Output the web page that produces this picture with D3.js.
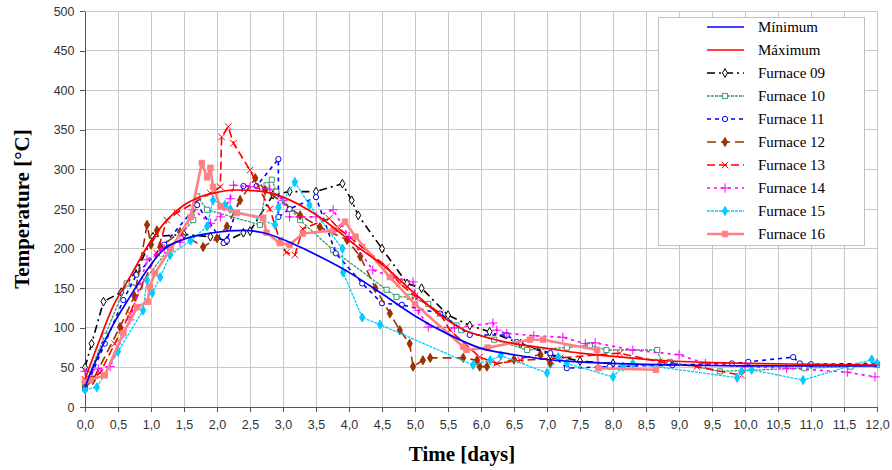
<!DOCTYPE html>
<html>
<head>
<meta charset="utf-8">
<script src="https://cdn.jsdelivr.net/npm/d3@7"></script>
<style>
  body { margin: 0; background: #fff; }
</style>
</head>
<body>
<svg id="chart" width="892" height="470"></svg>
<script>
// ---- data: [time (days), temperature (°C)] ----
const minimum = [[0,25],[0.12,50],[0.4,100],[0.68,139],[1.0,180],[1.18,198],[1.5,212],[1.94,220],[2.4,223],[2.7,220],[3.26,202],[3.6,188],[4.0,170],[4.5,143],[5.0,115],[5.5,92],[6.0,74],[6.5,66],[7.0,60],[7.5,57],[8.0,55],[9.0,53],[10.0,52],[11.0,52],[12.0,52]]
const maximum = [[0,35],[0.2,80],[0.42,126],[0.68,164],[0.94,202],[1.24,236],[1.5,255],[1.7,264],[2.0,271],[2.3,274],[2.7,272],[3.0,265],[3.4,248],[3.76,227],[4.1,204],[4.5,180],[5.0,143],[5.4,115],[5.75,97],[6.0,90],[6.5,80],[7.0,74],[7.5,68],[8.0,64],[8.7,59],[9.5,56],[10.0,55],[11.0,54],[12.0,53]]
const furnace09 = [[0,50],[0.1,80],[0.28,133],[0.55,145],[0.8,175],[1.03,215],[1.5,218],[1.9,215],[2.15,210],[2.4,220],[2.5,222],[2.85,268],[3.1,272],[3.5,272],[3.9,282],[4.04,261],[4.14,242],[4.5,200],[4.88,156],[5.1,150],[5.5,116],[5.83,103],[6.13,95],[6.6,80],[7.05,66],[7.5,58],[8.0,55]]
const furnace10 = [[0,28],[0.3,90],[0.63,156],[0.83,152],[1.29,202],[1.64,236],[1.7,266],[1.85,249],[2.65,230],[2.75,280],[2.83,287],[2.9,272],[3.26,236],[3.76,198],[4.57,148],[4.72,139],[4.92,139],[5.2,130],[5.63,103],[5.7,97],[6.2,85],[6.7,72],[7.3,75],[7.65,78],[7.9,72],[8.67,72],[8.74,55],[8.86,57],[9.62,45],[10.9,49],[11.6,51],[12.0,53]]
const furnace11 = [[0,22],[0.3,80],[0.58,135],[0.78,167],[1.2,205],[1.7,255],[2.1,207],[2.15,210],[2.4,279],[2.6,279],[2.93,313],[2.93,240],[3.1,250],[3.5,265],[3.8,194],[4.2,156],[4.5,131],[4.8,129],[5.38,118],[5.83,91],[6.39,91],[6.54,82],[7.05,68],[7.3,49],[7.95,51],[8.9,53],[9.8,55],[10.05,57],[10.73,63],[10.83,55],[11.0,54],[12.0,55]]
const furnace12 = [[0,25],[0.12,34],[0.53,101],[0.75,140],[0.94,230],[1.0,205],[1.09,223],[1.14,202],[1.44,221],[1.79,202],[2.0,213],[2.15,228],[2.35,261],[2.58,289],[2.73,274],[3.26,242],[3.56,227],[3.97,211],[4.17,190],[4.4,150],[4.62,118],[4.77,97],[4.92,80],[4.97,51],[5.12,59],[5.23,62],[5.73,62],[5.94,59],[5.98,51],[6.09,51],[6.5,60],[6.9,66],[7.05,55]]
const furnace13 = [[0,35],[0.23,43],[0.45,80],[0.68,118],[0.9,160],[1.09,194],[1.24,236],[1.39,245],[1.9,270],[2.05,278],[2.07,341],[2.17,354],[2.25,333],[2.5,299],[2.8,250],[2.95,211],[3.05,195],[3.18,192],[3.3,225],[3.7,238],[3.85,225],[4.2,202],[4.57,177],[4.77,156],[5.0,140],[5.38,118],[5.53,97],[5.98,63],[6.24,55],[6.6,59],[7.2,62],[8.1,68],[8.7,57],[9.27,51],[9.95,40]]
const furnace14 = [[0,45],[0.2,48],[0.38,51],[0.68,110],[0.94,186],[1.2,200],[1.44,208],[1.64,249],[1.9,232],[2.05,240],[2.2,263],[2.25,280],[2.5,278],[2.8,275],[3.0,261],[3.1,240],[3.5,240],[3.76,249],[4.0,215],[4.36,173],[4.67,164],[4.97,158],[5.05,122],[5.2,101],[5.6,100],[6.18,106],[6.24,97],[6.39,93],[6.8,90],[7.24,88],[7.58,80],[7.73,81],[8.3,72],[9.0,66],[9.4,55],[10.0,51],[10.63,49],[11.55,44],[11.97,38]]
const furnace15 = [[0,22],[0.18,25],[0.5,70],[0.88,122],[0.94,160],[1.02,144],[1.14,164],[1.29,192],[1.6,210],[1.85,228],[1.94,261],[2.12,255],[2.2,250],[2.88,230],[2.93,252],[3.18,284],[3.4,255],[3.9,200],[3.91,170],[4.2,113],[4.47,104],[5.88,53],[6.14,59],[6.3,65],[7.0,43],[7.17,63],[7.3,55],[8.0,38],[8.15,51],[8.3,55],[9.88,37],[9.95,45],[10.1,47],[10.88,34],[11.92,60],[12.0,55]]
const furnace16 = [[0,33],[0.08,34],[0.3,40],[0.58,93],[0.79,126],[0.95,133],[0.98,152],[1.06,169],[1.3,200],[1.6,240],[1.77,308],[1.85,290],[1.9,302],[1.94,278],[2.05,253],[2.3,245],[2.7,239],[2.75,220],[2.95,207],[3.1,205],[3.3,219],[3.76,223],[3.94,234],[4.1,215],[4.62,164],[5.0,130],[5.73,76],[5.78,72],[6.1,75],[6.74,85],[6.94,85],[7.76,72],[7.78,49],[8.65,47]]

const xTickValues = d3.range(0, 12.001, 0.5)
const yTickValues = d3.range(0, 501, 50)

const series = [
  { name: 'Mínimum', data: minimum, color: '#0000ff', width: 1.7, dash: null, marker: null, smooth: true },
  { name: 'Máximum', data: maximum, color: '#ff0000', width: 1.7, dash: null, marker: null, smooth: true },
  { name: 'Furnace 09', data: furnace09, color: '#000000', width: 1.6, dash: '8,4,2,4', marker: 'diamondOpen' },
  { name: 'Furnace 10', data: furnace10, color: '#3c9a6a', width: 1.3, dash: '3,1', marker: 'squareOpen' },
  { name: 'Furnace 11', data: furnace11, color: '#0000ff', width: 1.6, dash: '4,4', marker: 'circleOpen' },
  { name: 'Furnace 12', data: furnace12, color: '#993300', width: 1.6, dash: '9,5', marker: 'diamond' },
  { name: 'Furnace 13', data: furnace13, color: '#ff0000', width: 1.6, dash: '8,4', marker: 'x' },
  { name: 'Furnace 14', data: furnace14, color: '#ff00ff', width: 1.6, dash: '3,4', marker: 'plus' },
  { name: 'Furnace 15', data: furnace15, color: '#00ccff', width: 1.3, dash: '3,1', marker: 'diamond' },
  { name: 'Furnace 16', data: furnace16, color: '#ff8080', width: 2.6, dash: null, marker: 'square' },
]

const margin = { top: 11, right: 15, bottom: 63, left: 85 }
const width = 892
const height = 470
const chartWidth = width - margin.left - margin.right
const chartHeight = height - margin.top - margin.bottom

const svgRoot = d3.select('#chart')
svgRoot.append('rect').attr('width', width).attr('height', height).attr('fill', '#fff')

const svg = svgRoot.append('g')
  .attr('transform', `translate(${margin.left},${margin.top})`)

const x = d3.scaleLinear().domain([0, 12]).range([0, chartWidth])
const y = d3.scaleLinear().domain([0, 500]).range([chartHeight, 0])

const fmt = (d) => d3.format('.1f')(d).replace('.', ',')

// grid
svg.append('g').attr('id', 'grid')
  .call((g) => {
    g.selectAll('line.v').data(xTickValues.slice(1)).join('line')
      .attr('class', 'v')
      .attr('x1', (d) => x(d)).attr('x2', (d) => x(d))
      .attr('y1', 0).attr('y2', chartHeight)
    g.selectAll('line.h').data(yTickValues.slice(1)).join('line')
      .attr('class', 'h')
      .attr('x1', 0).attr('x2', chartWidth)
      .attr('y1', (d) => y(d)).attr('y2', (d) => y(d))
  })
  .selectAll('line')
  .attr('stroke', '#c8c8c8')
  .attr('stroke-width', 1)
  .attr('shape-rendering', 'crispEdges')

// axes
const xAxis = svg.append('g')
  .attr('transform', `translate(0,${chartHeight})`)
  .call(d3.axisBottom(x).tickValues(xTickValues).tickFormat(fmt).tickSize(5).tickSizeOuter(0))
const yAxis = svg.append('g')
  .call(d3.axisLeft(y).tickValues(yTickValues).tickSize(5).tickSizeOuter(0))

;[xAxis, yAxis].forEach((a) => {
  a.selectAll('path, line').attr('stroke', '#555').attr('shape-rendering', 'crispEdges')
  a.selectAll('text')
    .attr('fill', '#333')
    .attr('font-family', 'Liberation Sans, Arial, sans-serif')
    .attr('font-size', 12.5)
})
xAxis.selectAll('text').attr('dy', '1.1em')
yAxis.selectAll('text').attr('dx', '-0.2em')

// axis titles
svgRoot.append('text')
  .attr('transform', `translate(29,${margin.top + chartHeight / 2}) rotate(-90)`)
  .attr('text-anchor', 'middle')
  .attr('font-family', 'Liberation Serif, Times New Roman, serif')
  .attr('font-weight', 'bold')
  .attr('font-size', 21)
  .text('Temperature [°C]')

svgRoot.append('text')
  .attr('x', 462)
  .attr('y', 461)
  .attr('text-anchor', 'middle')
  .attr('font-family', 'Liberation Serif, Times New Roman, serif')
  .attr('font-weight', 'bold')
  .attr('font-size', 21)
  .text('Time [days]')

// markers
function drawMarker(sel, type, color) {
  const sym = {
    diamondOpen: [d3.symbolDiamond, 22, 'white'],
    diamond: [d3.symbolDiamond, 24, color],
    squareOpen: [d3.symbolSquare, 26, 'white'],
    square: [d3.symbolSquare, 30, color],
    circleOpen: [d3.symbolCircle, 22, 'white'],
    x: [d3.symbolTimes, 30, 'none'],
    plus: [d3.symbolCross2 || d3.symbolPlus, 30, 'none'],
  }[type]
  sel.append('path')
    .attr('d', d3.symbol().type(sym[0]).size(sym[1]))
    .attr('fill', sym[2])
    .attr('stroke', color)
    .attr('stroke-width', 1)
}

const plot = svg.append('g').attr('id', 'lines')
const line = d3.line().x((d) => x(d[0])).y((d) => y(d[1]))
const smoothLine = d3.line().x((d) => x(d[0])).y((d) => y(d[1])).curve(d3.curveMonotoneX)

// draw furnaces first, envelopes on top
const order = series.slice(2).concat(series.slice(0, 2))
order.forEach((s) => {
  const g = plot.append('g')
  g.append('path')
    .datum(s.data)
    .attr('d', s.smooth ? smoothLine : line)
    .attr('fill', 'none')
    .attr('stroke', s.color)
    .attr('stroke-width', s.width)
    .attr('stroke-dasharray', s.dash)
    .attr('stroke-linejoin', 'round')
  if (s.marker) {
    g.selectAll('g.m').data(s.data).join('g')
      .attr('class', 'm')
      .attr('transform', (d) => `translate(${x(d[0])},${y(d[1])})`)
      .each(function () { drawMarker(d3.select(this), s.marker, s.color) })
  }
})

// legend
const legendLayer = svgRoot.append('g').attr('id', 'legend')
  .attr('transform', 'translate(658,17)')
legendLayer.append('rect')
  .attr('width', 206).attr('height', 228)
  .attr('fill', '#fff').attr('stroke', '#c0c0c0')
  .attr('shape-rendering', 'crispEdges')

const items = legendLayer.selectAll('g.item').data(series).join('g')
  .attr('class', 'item')
  .attr('transform', (d, i) => `translate(0,${10 + i * 23})`)
items.append('line')
  .attr('x1', 49).attr('x2', 86).attr('y1', 0).attr('y2', 0)
  .attr('stroke', (d) => d.color)
  .attr('stroke-width', (d) => d.width)
  .attr('stroke-dasharray', (d) => d.dash)
items.filter((d) => d.marker)
  .append('g').attr('transform', 'translate(67,0)')
  .each(function (d) { drawMarker(d3.select(this), d.marker, d.color) })
items.append('text')
  .attr('x', 100).attr('y', 5)
  .attr('font-family', 'Liberation Serif, Times New Roman, serif')
  .attr('font-size', 15)
  .attr('fill', '#000')
  .text((d) => d.name)
</script>
</body>
</html>
